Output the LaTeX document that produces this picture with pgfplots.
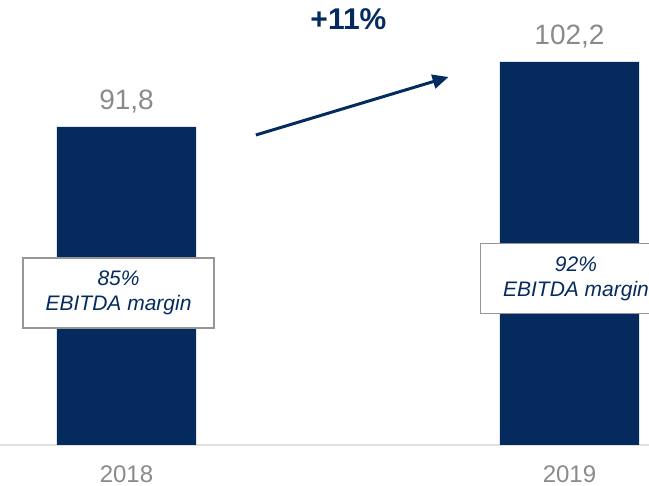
\documentclass[border=0pt]{standalone}
\usepackage{fontspec}
\setmainfont{Liberation Sans}
\usepackage{pgfplots}
\pgfplotsset{compat=1.18}
\usetikzlibrary{arrows.meta}
\definecolor{navy}{RGB}{5,43,94}
\definecolor{lbl}{RGB}{138,138,138}
\definecolor{boxgray}{RGB}{150,150,150}
\begin{document}
\begin{tikzpicture}
\begin{axis}[
  scale only axis, width=649pt, height=445pt,
  at={(0,0)}, anchor=south west,
  xmin=-0.28555, xmax=1.17946, ymin=40.92, ymax=112.12,
  ybar, bar width=0.3138,
  hide y axis, axis x line*=bottom,
  x axis line style={draw=black!12, line width=1.5pt},
  xtick={0,1}, xticklabels={2018,2019}, major tick length=0pt,
  xticklabel style={font=\fontsize{24}{24}\selectfont, text=lbl, anchor=base, inner sep=0pt, yshift=-37.3pt},
  /pgf/number format/assume math mode=true,
  nodes near coords={\pgfmathprintnumber[fixed,fixed zerofill,precision=1,use comma]{\pgfplotspointmeta}},
  nodes near coords style={font=\fontsize{28}{28}\selectfont, text=lbl, anchor=base, inner sep=0pt, yshift=17pt},
]
\addplot[fill=navy, draw=none] coordinates {(0,91.8) (1,102.2)};
\draw[navy, line width=3pt, -{Triangle[length=16pt, width=14pt]}] (axis cs:0.292,90.52) -- (axis cs:0.727,99.8);
\node[text=navy, font=\bfseries\fontsize{30}{30}\selectfont, inner sep=0pt] at (axis cs:0.501,109.08) {+11\%};
\node[draw=boxgray, line width=1.5pt, fill=white, text=navy, align=center,
      font=\itshape\fontsize{21}{25}\selectfont, minimum width=191pt, minimum height=70pt, inner sep=0pt]
      at (axis cs:-0.018,65.24) {85\%\\EBITDA margin};
\node[draw=boxgray, line width=1.5pt, fill=white, text=navy, align=center,
      font=\itshape\fontsize{21}{25}\selectfont, minimum width=191pt, minimum height=70pt, inner sep=0pt]
      at (axis cs:1.0147,67.56) {92\%\\EBITDA margin};
\end{axis}
\pgfresetboundingbox
\useasboundingbox (0,-41pt) rectangle (649pt,445pt);
\end{tikzpicture}
\end{document}
